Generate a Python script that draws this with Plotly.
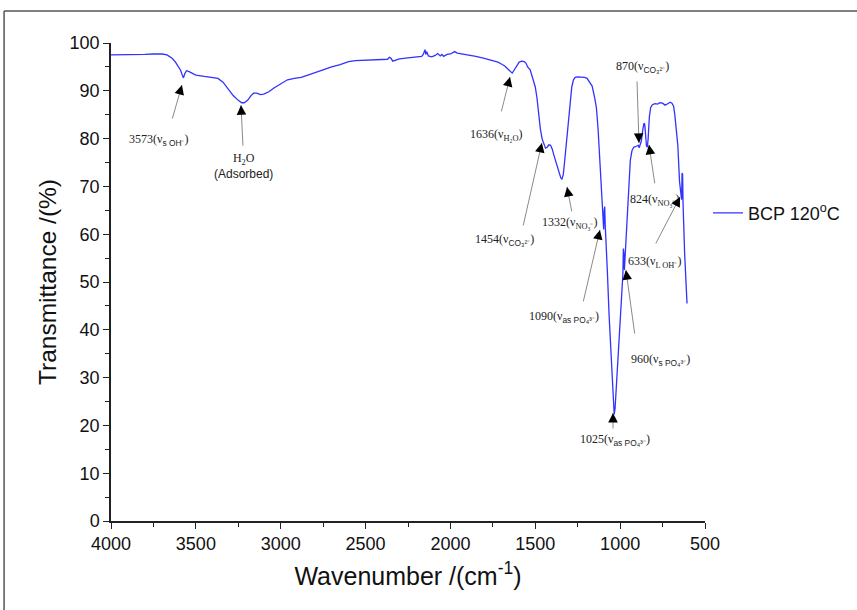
import plotly.graph_objects as go

# ---- spectrum data ----
wavenumber = [4000, 3950, 3900, 3850, 3800, 3750, 3700, 3670, 3640, 3620, 3600, 3590, 3580, 3573, 3565, 3555,
              3540, 3520, 3500, 3450, 3400, 3370, 3340, 3310, 3280, 3250, 3230, 3215, 3195, 3175, 3160, 3140,
              3120, 3100, 3070, 3040, 3000, 2960, 2920, 2880, 2840, 2800, 2750, 2700, 2650, 2600, 2560, 2500,
              2450, 2400, 2370, 2360, 2350, 2340, 2325, 2300, 2250, 2200, 2170, 2160, 2150, 2145, 2140, 2130,
              2110, 2090, 2075, 2060, 2050, 2040, 2020, 2000, 1985, 1975, 1960, 1940, 1900, 1850, 1800, 1760,
              1720, 1700, 1680, 1660, 1645, 1636, 1625, 1610, 1595, 1580, 1565, 1555, 1545, 1530, 1515, 1500,
              1490, 1480, 1470, 1460, 1450, 1440, 1430, 1420, 1410, 1400, 1390, 1375, 1360, 1350, 1343, 1335,
              1325, 1315, 1305, 1295, 1285, 1275, 1265, 1250, 1230, 1210, 1195, 1185, 1175, 1165, 1150, 1140,
              1130, 1120, 1110, 1100, 1097, 1094, 1091, 1088, 1085, 1075, 1065, 1055, 1045, 1035, 1030, 1020,
              1010, 1000, 990, 984, 981, 978, 975, 970, 960, 950, 940, 930, 920, 910, 900, 893,
              888, 882, 875, 868, 860, 855, 850, 845, 840, 835, 828, 820, 810, 795, 780, 765,
              750, 735, 720, 705, 695, 685, 678, 670, 660, 650, 643, 638, 635, 632, 629, 620, 606]
transmittance = [97.5, 97.5, 97.6, 97.5, 97.6, 97.7, 97.7, 97.5, 96.8, 96.0, 95.0, 94.3, 93.3, 92.7, 93.6, 94.2,
                 94.0, 93.6, 93.3, 93.0, 92.8, 92.6, 91.8, 90.5, 89.0, 88.0, 87.5, 87.5, 88.0, 89.0, 89.5, 89.5,
                 89.2, 89.3, 89.8, 90.6, 91.5, 92.3, 92.6, 92.8, 93.3, 93.8, 94.4, 95.0, 95.5, 96.1, 96.3, 96.4,
                 96.4, 96.6, 96.6, 97.0, 96.8, 96.2, 96.4, 96.7, 96.9, 97.1, 97.2, 97.6, 98.6, 97.6, 98.2, 97.3,
                 97.1, 97.4, 97.8, 97.3, 97.6, 97.2, 97.6, 97.7, 98.0, 98.2, 97.9, 97.8, 97.5, 97.2, 96.8, 96.4,
                 96.0, 95.6, 95.2, 94.5, 93.9, 93.7, 94.3, 95.3, 96.0, 96.2, 96.1, 95.8, 95.0, 94.4, 92.5, 90.8,
                 88.5, 85.0, 82.0, 80.0, 78.8, 78.0, 78.2, 78.7, 78.6, 77.8, 76.5, 74.8, 72.8, 71.8, 71.5, 72.5,
                 76.0, 80.0, 84.5, 88.0, 90.8, 92.3, 92.8, 92.9, 92.9, 92.8, 92.6, 92.0, 91.7, 91.0, 88.5, 86.5,
                 82.0, 75.0, 68.0, 62.5, 61.0, 65.0, 65.8, 62.0, 60.0, 52.0, 43.0, 35.0, 27.5, 22.3, 23.5, 30.0,
                 37.0, 43.0, 48.5, 51.5, 57.0, 56.0, 52.5, 56.0, 64.0, 71.0, 75.5, 77.5, 78.2, 78.3, 78.5, 78.6,
                 78.1, 78.7, 79.5, 81.5, 83.2, 83.0, 80.5, 78.5, 78.2, 80.0, 84.5, 86.5, 87.1, 87.3, 87.2, 87.5,
                 87.4, 87.0, 87.3, 87.6, 87.4, 86.8, 85.0, 82.0, 78.5, 71.0, 68.0, 67.2, 72.8, 72.5, 66.0, 56.0, 45.5]

series_name = "BCP 120<sup>o</sup>C"

# ---- peak annotations: label text, arrow tip (wavenumber, T), label centre (wavenumber, T) ----
SANS = "font-family:'Liberation Sans'"
peak_labels = [
    f"3573(ν<sub><span style=\"{SANS}\">s OH⁻</span></sub>)",
    f"H<sub>2</sub>O<br><span style=\"{SANS}\">(Adsorbed)</span>",
    "1636(ν<sub>H₂O</sub>)",
    f"1454(ν<sub><span style=\"{SANS}\">CO₃²⁻</span></sub>)",
    "1332(ν<sub>NO₃⁻</sub>)",
    f"1090(ν<sub><span style=\"{SANS}\">as PO₄³⁻</span></sub>)",
    f"1025(ν<sub><span style=\"{SANS}\">as PO₄³⁻</span></sub>)",
    f"960(ν<sub><span style=\"{SANS}\">s PO₄³⁻</span></sub>)",
    f"870(ν<sub><span style=\"{SANS}\">CO₃²⁻</span></sub>)",
    "824(ν<sub>NO₃⁻</sub>)",
    "633(ν<sub>L OH⁻</sub>)",
]
tip_wn = [3582, 3234, 1649, 1461, 1313, 1119, 1042, 966, 889, 830, 647]
tip_t = [91.2, 87.0, 92.9, 79.1, 69.9, 60.9, 22.6, 52.5, 79.1, 78.7, 67.8]
label_wn = [3717, 3222, 1732, 1679, 1296, 1331, 1030, 765, 871, 795, 795]
label_t = [79.7, 74.3, 80.8, 58.8, 62.3, 42.7, 16.9, 33.7, 95.0, 67.2, 54.2]
# arrow tail offsets (px) from tip
tail_dx = [-10, 2, -9, -19, 5, -17, 0, 9, -2, 6, -25]
tail_dy = [35, 42, 36, 84, 26, 73, 17, 65, -63, 40, 48]

fig = go.Figure()
fig.add_trace(go.Scatter(x=wavenumber, y=transmittance, mode="lines", name=series_name,
                         line=dict(color="rgb(50,50,255)", width=1.3)))

annotations = []
for i, txt in enumerate(peak_labels):
    annotations.append(dict(x=label_wn[i], y=label_t[i], xref="x", yref="y", text=txt, showarrow=False,
                            font=dict(family="Liberation Serif", size=12, color="#222")))
    # grey shaft
    annotations.append(dict(x=tip_wn[i], y=tip_t[i], xref="x", yref="y", text="", showarrow=True,
                            arrowhead=0, arrowwidth=1, arrowcolor="#8a8a8a",
                            ax=tail_dx[i], ay=tail_dy[i]))
    # black head
    L = (tail_dx[i] ** 2 + tail_dy[i] ** 2) ** 0.5
    annotations.append(dict(x=tip_wn[i], y=tip_t[i], xref="x", yref="y", text="", showarrow=True,
                            arrowhead=2, arrowsize=1.6, arrowwidth=1.2, arrowcolor="#000",
                            ax=tail_dx[i] / L * 9, ay=tail_dy[i] / L * 9))

fig.update_layout(
    width=857, height=610,
    margin=dict(l=111, r=150, t=43, b=89),
    paper_bgcolor="white", plot_bgcolor="white",
    font=dict(family="Liberation Sans", color="#111"),
    showlegend=True,
    legend=dict(x=1.005, y=0.644, xanchor="left", yanchor="middle", font=dict(size=18, color="#111"),
                bgcolor="rgba(0,0,0,0)"),
    annotations=annotations,
    shapes=[
        dict(type="line", xref="paper", yref="paper", x0=-0.18, x1=1.3, y0=1.067, y1=1.067,
             line=dict(color="#555", width=1.5)),
        dict(type="line", xref="paper", yref="paper", x0=-0.18, x1=-0.18, y0=1.067, y1=-0.2,
             line=dict(color="#555", width=1.5)),
    ],
)
fig.update_xaxes(range=[4000, 500], tickvals=[4000, 3500, 3000, 2500, 2000, 1500, 1000, 500],
                 ticks="outside", ticklen=6, tickwidth=1.2, tickcolor="#222",
                 minor=dict(dtick=250, ticks="outside", ticklen=4, tickcolor="#222", tickwidth=1.2),
                 showline=True, linecolor="#222", linewidth=1.5, showgrid=False, zeroline=False,
                 tickfont=dict(size=18), title=dict(text="Wavenumber /(cm<sup>-1</sup>)",
                                                      font=dict(size=25), standoff=14))
fig.update_yaxes(range=[0, 100], dtick=10, ticks="outside", ticklen=6, tickwidth=1.2, tickcolor="#222",
                 minor=dict(dtick=5, ticks="outside", ticklen=4, tickcolor="#222", tickwidth=1.2),
                 showline=True, linecolor="#222", linewidth=1.5, showgrid=False, zeroline=False,
                 tickfont=dict(size=18), title=dict(text="Transmittance /(%)", font=dict(size=24.5), standoff=6))

fig.write_html("out.html")
